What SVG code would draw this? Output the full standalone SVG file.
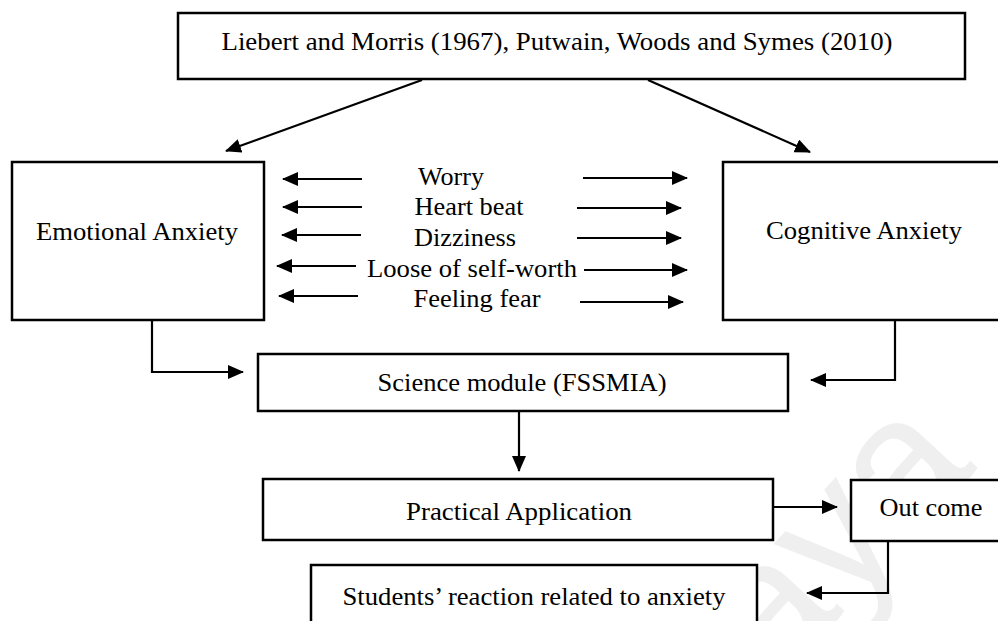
<svg xmlns="http://www.w3.org/2000/svg" width="998" height="621" viewBox="0 0 998 621">
  <style>
    .box { fill: #ffffff; stroke: #000000; stroke-width: 2.5; }
    .lbl { font-family: "Liberation Serif", "Times New Roman", serif; font-size: 25px; fill: #000000; text-anchor: middle; }
    .wire { fill: none; stroke: #000000; stroke-width: 2.2; }
    .wm { font-family: "Liberation Sans", Arial, sans-serif; font-size: 185px; fill: #efefef; }
  </style>
  <defs>
    <marker id="arrow" markerUnits="userSpaceOnUse" markerWidth="16" markerHeight="14" refX="15" refY="7" orient="auto">
      <path d="M0,0 L16,7 L0,14 Z" fill="#000000"/>
    </marker>
  </defs>

  <rect width="998" height="621" fill="#ffffff"/>

  <!-- faint background watermark -->
  <text class="wm" x="0" y="0" text-anchor="end" transform="translate(978,468) rotate(-47)">Malaya</text>

  <g id="connectors">
    <!-- from the source box to the two anxiety types -->
    <line class="wire" x1="422" y1="80" x2="226" y2="151" marker-end="url(#arrow)"/>
    <line class="wire" x1="648" y1="80" x2="810" y2="152" marker-end="url(#arrow)"/>
    <!-- symptom arrows, left -->
    <line class="wire" x1="362" y1="179" x2="283" y2="179" marker-end="url(#arrow)"/>
    <line class="wire" x1="362" y1="207" x2="283" y2="207" marker-end="url(#arrow)"/>
    <line class="wire" x1="361" y1="235" x2="282" y2="235" marker-end="url(#arrow)"/>
    <line class="wire" x1="356" y1="266" x2="277" y2="266" marker-end="url(#arrow)"/>
    <line class="wire" x1="358" y1="296" x2="279" y2="296" marker-end="url(#arrow)"/>
    <!-- symptom arrows, right -->
    <line class="wire" x1="583" y1="178" x2="687" y2="178" marker-end="url(#arrow)"/>
    <line class="wire" x1="577" y1="208" x2="681" y2="208" marker-end="url(#arrow)"/>
    <line class="wire" x1="577" y1="238" x2="681" y2="238" marker-end="url(#arrow)"/>
    <line class="wire" x1="584" y1="270" x2="687" y2="270" marker-end="url(#arrow)"/>
    <line class="wire" x1="580" y1="302" x2="683" y2="302" marker-end="url(#arrow)"/>
    <!-- anxiety types to science module -->
    <polyline class="wire" points="152,320 152,372 243,372" marker-end="url(#arrow)"/>
    <polyline class="wire" points="895,320 895,380 811,380" marker-end="url(#arrow)"/>
    <!-- module to practical application -->
    <line class="wire" x1="519" y1="411" x2="519" y2="471" marker-end="url(#arrow)"/>
    <!-- practical application to outcome -->
    <line class="wire" x1="773" y1="507" x2="837" y2="507" marker-end="url(#arrow)"/>
    <!-- outcome to student reaction -->
    <polyline class="wire" points="888,541 888,593 807,593" marker-end="url(#arrow)"/>
  </g>

  <g id="source">
    <rect class="box" x="178" y="13" width="787" height="66"/>
    <text class="lbl" x="557" y="50" font-size="24" textLength="671" lengthAdjust="spacingAndGlyphs">Liebert and Morris (1967), Putwain, Woods and Symes (2010)</text>
  </g>

  <g id="emotional">
    <rect class="box" x="12" y="162" width="252" height="158"/>
    <text class="lbl" x="137" y="240" textLength="202" lengthAdjust="spacingAndGlyphs">Emotional Anxiety</text>
  </g>

  <g id="cognitive">
    <rect class="box" x="723" y="162" width="285" height="158"/>
    <text class="lbl" x="864" y="239" textLength="196" lengthAdjust="spacingAndGlyphs">Cognitive Anxiety</text>
  </g>

  <g id="symptoms">
    <text class="lbl" x="451" y="185" textLength="66" lengthAdjust="spacingAndGlyphs">Worry</text>
    <text class="lbl" x="469" y="215" textLength="109" lengthAdjust="spacingAndGlyphs">Heart beat</text>
    <text class="lbl" x="465" y="246" textLength="102" lengthAdjust="spacingAndGlyphs">Dizziness</text>
    <text class="lbl" x="472" y="277" textLength="210" lengthAdjust="spacingAndGlyphs">Loose of self-worth</text>
    <text class="lbl" x="477" y="307" textLength="127" lengthAdjust="spacingAndGlyphs">Feeling fear</text>
  </g>

  <g id="module">
    <rect class="box" x="258" y="354" width="530" height="57"/>
    <text class="lbl" x="522" y="391" font-size="24" textLength="289" lengthAdjust="spacingAndGlyphs">Science module (FSSMIA)</text>
  </g>

  <g id="practical">
    <rect class="box" x="263" y="479" width="510" height="61"/>
    <text class="lbl" x="519" y="520" font-size="24" textLength="226" lengthAdjust="spacingAndGlyphs">Practical Application</text>
  </g>

  <g id="outcome">
    <rect class="box" x="851" y="480" width="157" height="61"/>
    <text class="lbl" x="931" y="516" font-size="24" textLength="103" lengthAdjust="spacingAndGlyphs">Out come</text>
  </g>

  <g id="reaction">
    <rect class="box" x="311" y="565" width="446" height="70"/>
    <text class="lbl" x="534" y="605" font-size="24" textLength="383" lengthAdjust="spacingAndGlyphs">Students’ reaction related to anxiety</text>
  </g>
</svg>
